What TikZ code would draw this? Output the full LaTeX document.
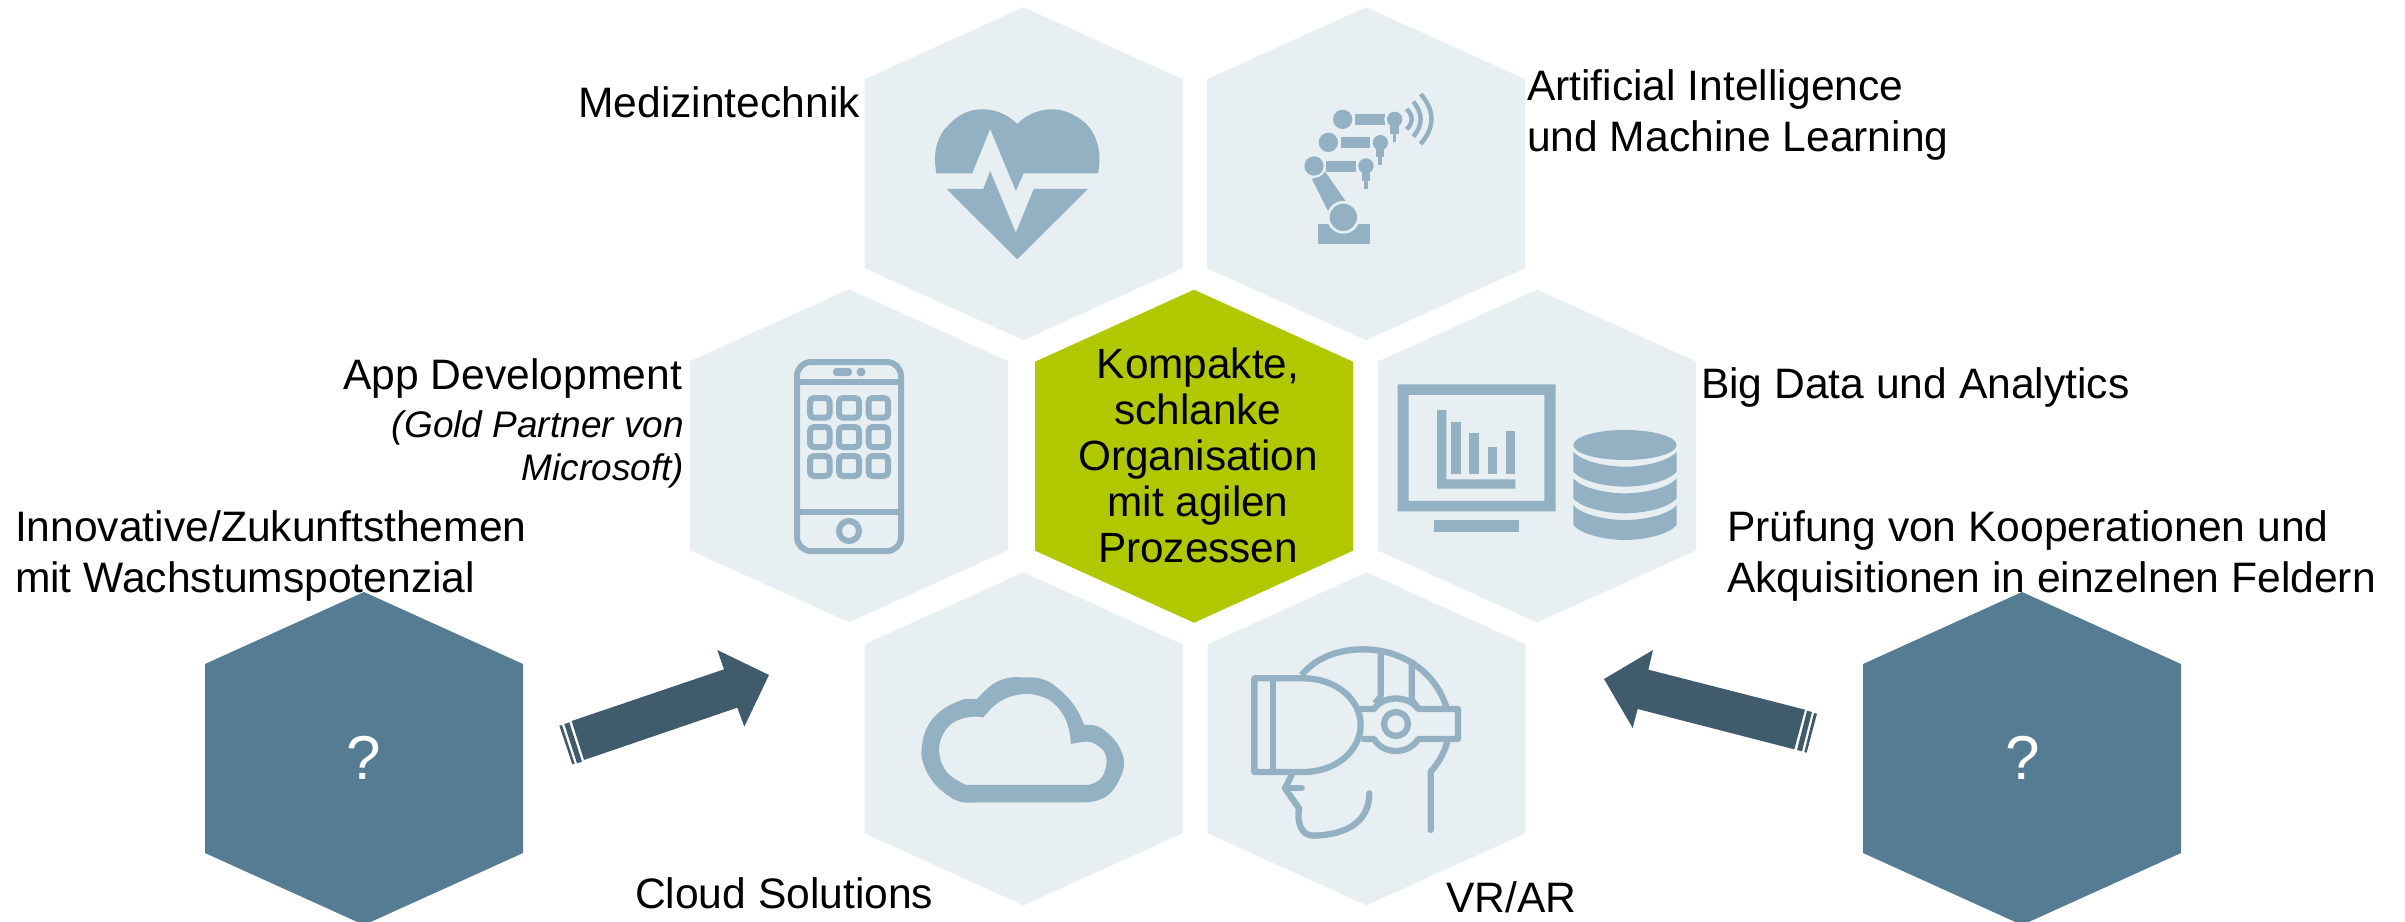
\documentclass[tikz,border=0pt]{standalone}
\usepackage{fontspec}
\setmainfont{Liberation Sans}
\definecolor{hexlight}{HTML}{E8EFF3}
\definecolor{hexdark}{HTML}{557C92}
\definecolor{hexgreen}{HTML}{B1C800}
\definecolor{iconblue}{HTML}{93B1C2}
\definecolor{arrowdark}{HTML}{3F5B6C}
\newcommand{\hexa}[3]{\fill[#3] (#1,#2-166.5) -- (#1+159,#2-94.5) -- (#1+159,#2+94.5) -- (#1,#2+166.5) -- (#1-159,#2+94.5) -- (#1-159,#2-94.5) -- cycle;}
\tikzset{
  lbl/.style={inner sep=0pt,outer sep=0pt,font=\fontsize{42.6}{51}\selectfont},
  ital/.style={inner sep=0pt,outer sep=0pt,font=\fontsize{37}{43}\selectfont\itshape},
  ctr/.style={inner sep=0pt,outer sep=0pt,font=\fontsize{42.3}{46}\selectfont,align=center},
  qmark/.style={inner sep=0pt,outer sep=0pt,text=white,font=\fontsize{62}{70}\selectfont},
  icon/.style={fill=iconblue,draw=none},
  iconline/.style={draw=iconblue,line width=#1,fill=none},
  iconline/.default=6pt,
  blockarrow/.style={fill=arrowdark,draw=none}
}
\begin{document}
\begin{tikzpicture}[x=1pt,y=-1pt]
\useasboundingbox (0,0) rectangle (2405,921);
\clip (0,0) rectangle (2405,921);
% hexagons
\hexa{1023.5}{173.7}{hexlight}
\hexa{1366}{173.7}{hexlight}
\hexa{849}{455.7}{hexlight}
\hexa{1194}{456.2}{hexgreen}
\hexa{1537}{456}{hexlight}
\hexa{1023.5}{738.8}{hexlight}
\hexa{1366.5}{738.8}{hexlight}
\hexa{364}{758.5}{hexdark}
\hexa{2022}{758.5}{hexdark}
% heart
\begin{scope}[shift={(840,0)},xscale=0.4591,yscale=0.3333]
\fill[icon] (210,520) .. controls (200,450) and (215,400) .. (240,370) .. controls (265,335) and (290,328) .. (310,328) .. controls (345,328) and (370,350) .. (386,372) .. controls (402,350) and (427,328) .. (462,328) .. controls (485,328) and (510,340) .. (535,370) .. controls (557,400) and (572,450) .. (562,520) -- (400,520) -- (383,573) -- (327,387) -- (288,520) -- cycle;
\fill[icon] (232,567) -- (312,567) -- (327,513) -- (383,698) -- (422,567) -- (540,567) -- (386,778) -- cycle;
\end{scope}
% robot
\begin{scope}[shift={(1290,90)},scale=0.3333]
\fill[icon] (85,403) rectangle (240,463);
\fill[icon] (66,268) -- (105,245) -- (168,335) -- (115,365) -- cycle;
\fill[hexlight] (160,382) circle (49);
\fill[icon] (160,382) circle (41);
\fill[icon] (107,212) rectangle (198,245);
\fill[hexlight] (72,228) circle (36);
\fill[icon] (72,228) circle (29);
\foreach \dx/\dy in {0/0,43/-70,86/-140}{
  \fill[icon] (107+\dx,212+\dy) rectangle (198+\dx,245+\dy);
  \fill[hexlight] (228+\dx,228+\dy) circle (31);
  \fill[icon] (228+\dx,228+\dy) circle (23);
  \fill[icon] (215+\dx,240+\dy) rectangle (240+\dx,272+\dy);
  \fill[icon] (222+\dx,272+\dy) rectangle (233+\dx,296+\dy);
}
\fill[hexlight] (142,142) rectangle (152,175);
\fill[hexlight] (185,72) rectangle (195,105);
\fill[icon] (115,157) circle (29);
\fill[icon] (158,88) circle (29);
\draw[iconline=4.5pt] (350,57) .. controls (370,77) and (370,98) .. (350,118);
\draw[iconline=4.5pt] (370,35) .. controls (399,70) and (399,105) .. (370,140);
\draw[iconline=4.5pt] (392,12) .. controls (435,62) and (435,112) .. (392,162);
\end{scope}
% phone
\draw[iconline] (797,376) arc[start angle=180,end angle=270,radius=14] -- (887,362) arc[start angle=-90,end angle=0,radius=14] -- (901,537) arc[start angle=0,end angle=90,radius=14] -- (811,551) arc[start angle=90,end angle=180,radius=14] -- cycle;
\draw[iconline] (797,382) -- (901,382);
\draw[iconline] (797,512) -- (901,512);
\fill[icon,rounded corners=3.5pt] (833,368) rectangle (852,376);
\fill[icon] (861,372) circle (4.5);
\foreach \xa/\xb in {810/829.5,839/859,868.6/888}{
  \foreach \ya/\yb in {398/417.7,427/447,456/476}{
    \draw[iconline,rounded corners=4pt] (\xa,\ya) rectangle (\xb,\yb);
  }
}
\draw[iconline] (849,531) circle (10);
% big data
\begin{scope}[shift={(1360,290)},scale=0.3333]
\fill[icon,even odd rule] (113,283) rectangle (587,664) (146,315) rectangle (553,633);
\fill[icon] (222,690) rectangle (477,726);
\fill[icon] (231,360) -- (259,360) -- (259,568) -- (466,568) -- (466,596) -- (231,596) -- cycle;
\fill[icon] (273,395) rectangle (304,553);
\fill[icon] (327,429) rectangle (358,553);
\fill[icon] (384,471) rectangle (412,553);
\fill[icon] (438,423) rectangle (466,553);
\fill[icon] (795,465) ellipse [x radius=155,y radius=45];
\foreach \d in {0,80,160}{
  \fill[icon] (640,485+\d) .. controls (665,515+\d) and (740,530+\d) .. (795,530+\d) .. controls (850,530+\d) and (925,515+\d) .. (950,485+\d) -- (950,545+\d) .. controls (925,575+\d) and (850,590+\d) .. (795,590+\d) .. controls (740,590+\d) and (665,575+\d) .. (640,545+\d) -- cycle;
}
\end{scope}
% cloud
\begin{scope}[shift={(920,660)},scale=0.3333]
\fill[icon,even odd rule]
 (170,118) -- plot[smooth,tension=0.7] coordinates {(170,118) (215,75) (260,55) (310,52) (370,58) (420,90) (465,140) (493,195)}
 -- plot[smooth,tension=0.7] coordinates {(493,195) (530,198) (570,225) (600,265) (612,310) (600,355) (570,400) (530,422) (490,427)}
 -- plot[smooth,tension=0.7] coordinates {(170,427) (120,425) (75,400) (35,360) (10,310) (5,265) (20,205) (60,155) (125,120) (170,118)} -- cycle
 (190,172) -- plot[smooth,tension=0.7] coordinates {(190,172) (205,155) (225,135) (265,112) (315,102) (355,107) (395,125) (430,165) (447,210) (453,252)}
 -- plot[smooth,tension=0.7] coordinates {(453,252) (500,245) (530,255) (555,280) (558,320) (540,358) (505,375)}
 -- plot[smooth,tension=0.7] coordinates {(138,375) (95,350) (70,320) (58,280) (62,240) (85,200) (120,178) (160,170) (190,172)} -- cycle;
\end{scope}
% headset
\begin{scope}[shift={(1240,640)},scale=0.3333,line join=round]
\draw[iconline=6.3pt] (43,115) -- (190,115) .. controls (290,115) and (362,180) .. (362,255) .. controls (362,330) and (290,396) .. (190,396) -- (43,396) -- cycle;
\draw[iconline=6.3pt] (98,115) -- (98,396);
\draw[iconline=6.3pt] (185,105) .. controls (230,50) and (300,28) .. (370,28) .. controls (490,28) and (590,100) .. (620,205);
\draw[iconline=6.3pt] (422,38) -- (422,170) -- (405,190);
\draw[iconline=6.3pt] (515,60) -- (515,180) -- (535,205);
\draw[iconline=6.3pt] (360,207) -- (402,207) .. controls (430,165) and (505,165) .. (535,207) -- (654,207) -- (654,297) -- (535,297) .. controls (505,345) and (430,345) .. (402,297) -- (365,297);
\draw[iconline=6.3pt] (468,252) circle (36);
\draw[iconline=6.3pt,line cap=round] (155,405) -- (135,445) -- (177,505) .. controls (170,550) and (185,587) .. (220,587) .. controls (320,585) and (388,545) .. (388,460);
\draw[iconline=6.3pt,line cap=round] (135,445) -- (185,445);
\draw[iconline=6.3pt,line cap=round] (622,305) .. controls (612,340) and (595,370) .. (572,395) -- (572,570);
\end{scope}
% arrows
\begin{scope}[shift={(500,620)},scale=0.3333]
\fill[blockarrow] (807,165) -- (652,90) -- (672,148) -- (215,303) -- (252,420) -- (712,263) -- (733,320) -- cycle;
\fill[blockarrow] (193,312) -- (208,307) -- (246,425) -- (231,430) -- cycle;
\fill[blockarrow] (178,317) -- (186,315) -- (224,431) -- (217,433) -- cycle;
\end{scope}
\begin{scope}[shift={(1580,620)},scale=0.3333]
\fill[blockarrow] (72,177) -- (219,90) -- (205,149) -- (675,269) -- (643,388) -- (173,267) -- (158,324) -- cycle;
\fill[blockarrow] (681,272) -- (696,276) -- (666,394) -- (651,390) -- cycle;
\fill[blockarrow] (702,279) -- (711,281) -- (680,398) -- (673,396) -- cycle;
\end{scope}
% labels
\node[lbl,anchor=base east] (med) at (860,117) {Medizintechnik};
\node[lbl,anchor=base west] (ai1) at (1527,100) {Artificial Intelligence};
\node[lbl,anchor=base west] (ai2) at (1527,151) {und Machine Learning};
\node[lbl,anchor=base east] (app) at (682,389) {App Development};
\node[ital,anchor=base east] (gold1) at (684,437) {(Gold Partner von};
\node[ital,anchor=base east] (gold2) at (684,480) {Microsoft)};
\node[lbl,anchor=base west] (big) at (1701,398) {Big Data und Analytics};
\node[lbl,anchor=base west] (pr1) at (1727,541) {Prüfung von Kooperationen und};
\node[lbl,anchor=base west] (pr2) at (1727,592) {Akquisitionen in einzelnen Feldern};
\node[lbl,anchor=base west] (in1) at (15,541) {Innovative/Zukunftsthemen};
\node[lbl,anchor=base west] (in2) at (15,592) {mit Wachstumspotenzial};
\node[lbl,anchor=base west] (cloud) at (635,908) {Cloud Solutions};
\node[lbl,anchor=base west] (vr) at (1446,912) {VR/AR};
\node[qmark,anchor=base] (q1) at (364,779) {?};
\node[qmark,anchor=base] (q2) at (2023,779) {?};
\node[ctr,anchor=center] (core) at (1198,455) {Kompakte,\\schlanke\\Organisation\\mit agilen\\Prozessen};
\end{tikzpicture}
\end{document}
